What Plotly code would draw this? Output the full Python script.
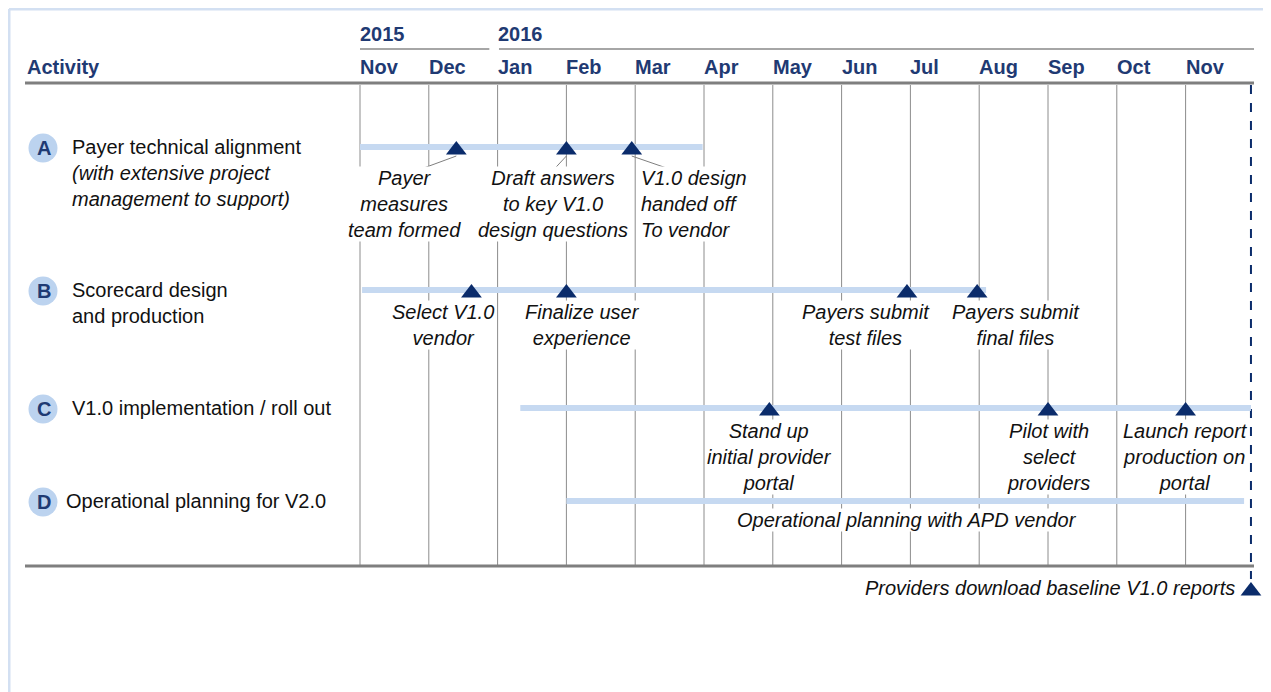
import plotly.graph_objects as go

# ---------------- data ----------------
years = ["2015", "2016"]
year_start_month = [0, 2]
months = ["Nov", "Dec", "Jan", "Feb", "Mar", "Apr", "May", "Jun", "Jul", "Aug", "Sep", "Oct", "Nov"]

activity_letters = ["A", "B", "C", "D"]
activity_titles = ["Payer technical alignment", "Scorecard design",
                   "V1.0 implementation / roll out", "Operational planning for V2.0"]
activity_subtitles = ["<i>(with extensive project<br>management to support)</i>",
                      "and production", "", ""]
bar_start = [0.0, 0.03, 2.33, 3.0]
bar_end = [4.98, 9.1, 12.95, 12.85]

milestone_activity = [0, 0, 0, 1, 1, 1, 1, 2, 2, 2]
milestone_month = [1.4, 3.0, 3.95, 1.62, 3.0, 7.95, 8.97, 5.95, 10.0, 12.0]
milestone_labels = [
    "Payer<br>measures<br>team formed",
    "Draft answers<br>to key V1.0<br>design questions",
    "V1.0 design<br>handed off<br>To vendor",
    "Select V1.0<br>vendor",
    "Finalize user<br>experience",
    "Payers submit<br>test files",
    "Payers submit<br>final files",
    "Stand up<br>initial provider<br>portal",
    "Pilot with<br>select<br>providers",
    "Launch report<br>production on<br>portal",
]
final_month = 12.95
final_label = "Providers download baseline V1.0 reports"
d_note = "Operational planning with APD vendor"
d_note_month = 7.95

# ---------------- layout constants (page pixels / styles) ----------------
PAGE_W, PAGE_H = 1271, 692
OFF = 8                      # default body margin of the html page
W, H = PAGE_W - OFF, PAGE_H - OFF
ORIGIN_PX, MONTH_PX = 360.0, 68.8
row_y = [147, 290, 408, 501]
label_dy = [56.5, 35, 49, 0]
label_dx = [-0.76, -0.2, 0.12, -0.41, 0.23, -0.6, 0.57, 0.0, 0.0, 0.0]
label_anchor = ["center", "center", "left", "center", "center", "center", "center",
                "center", "center", "center"]
leaders = {0: (0.61, 176), 1: (2.77, 173), 2: (4.75, 175)}

NAVY = "#1f3a73"
TRI = "#0b2c6b"
BAR = "#c6d9f1"
GRID = "#8c8c8c"
FONT = "Liberation Sans, Arial, sans-serif"
FS = 20

GRID_TOP, GRID_BOT = 85, 566


def px_x(p):
    return (p - OFF) / W


def px_y(p):
    return 1 - (p - OFF) / H


fig = go.Figure()

gx, gy = [], []
for i in range(len(months)):
    gx += [i, i, None]
    gy += [GRID_TOP, GRID_BOT, None]
fig.add_trace(go.Scatter(x=gx, y=gy, mode="lines", line=dict(color=GRID, width=1),
                         hoverinfo="skip"))

fig.add_trace(go.Scatter(x=[final_month, final_month], y=[GRID_TOP, 579], mode="lines",
                         line=dict(color=TRI, width=2, dash="dash"), hoverinfo="skip"))

for k, (ex, ey) in leaders.items():
    a = milestone_activity[k]
    fig.add_trace(go.Scatter(x=[milestone_month[k], ex], y=[row_y[a] + 9, ey], mode="lines",
                             line=dict(color="#7f7f7f", width=1), hoverinfo="skip"))

for a in range(len(activity_letters)):
    fig.add_trace(go.Scatter(x=[bar_start[a], bar_end[a]], y=[row_y[a], row_y[a]],
                             mode="lines", line=dict(color=BAR, width=6), hoverinfo="skip"))

fig.add_trace(go.Scatter(
    x=milestone_month + [final_month],
    y=[row_y[a] + 3 for a in milestone_activity] + [591],
    mode="markers",
    marker=dict(symbol="triangle-up", size=18, color=TRI, line=dict(width=0)),
    hoverinfo="skip"))

ann = []
ann.append(dict(x=px_x(25), y=px_y(67), xref="paper", yref="paper", text="<b>Activity</b>",
                xanchor="left", yanchor="middle", showarrow=False,
                font=dict(family=FONT, size=20, color=NAVY)))
for yr, m0 in zip(years, year_start_month):
    ann.append(dict(x=m0, y=34, xref="x", yref="y", text=f"<b>{yr}</b>", xanchor="left",
                    yanchor="middle", showarrow=False, xshift=-2,
                    font=dict(family=FONT, size=20, color=NAVY)))
for i, m in enumerate(months):
    ann.append(dict(x=i, y=67, xref="x", yref="y", text=f"<b>{m}</b>", xanchor="left",
                    yanchor="middle", showarrow=False, xshift=-2,
                    font=dict(family=FONT, size=20, color=NAVY)))

shapes = []
for a, (L, t, s) in enumerate(zip(activity_letters, activity_titles, activity_subtitles)):
    cx, cy, r = 43, row_y[a] + 1, 14.5
    shapes.append(dict(type="circle", xref="paper", yref="paper",
                       x0=px_x(cx - r), x1=px_x(cx + r), y0=px_y(cy + r), y1=px_y(cy - r),
                       fillcolor="#bcd3ef", line=dict(width=0), layer="above"))
    ann.append(dict(x=px_x(cx + 1), y=px_y(cy), xref="paper", yref="paper", text=f"<b>{L}</b>",
                    xanchor="center", yanchor="middle", showarrow=False,
                    font=dict(family=FONT, size=20, color=NAVY)))
    text = t + ("<br>" + s if s else "")
    tx = 64 if a == 3 else 70
    ann.append(dict(x=px_x(tx), y=px_y(row_y[a] - 13), xref="paper", yref="paper", text=text,
                    xanchor="left", yanchor="top", align="left", showarrow=False,
                    font=dict(family=FONT, size=20, color="#111111")))

for k, lab in enumerate(milestone_labels):
    a = milestone_activity[k]
    ann.append(dict(x=milestone_month[k] + label_dx[k], y=row_y[a] + label_dy[a],
                    xref="x", yref="y", text=f"<i>{lab}</i>",
                    xanchor=label_anchor[k], yanchor="middle", align=label_anchor[k],
                    showarrow=False, bgcolor="white", borderpad=0,
                    font=dict(family=FONT, size=FS, color="#111111")))

ann.append(dict(x=d_note_month, y=520, xref="x", yref="y", text=f"<i>{d_note}</i>",
                xanchor="center", yanchor="middle", showarrow=False, bgcolor="white",
                borderpad=0, font=dict(family=FONT, size=FS, color="#111111")))
ann.append(dict(x=final_month, y=588, xref="x", yref="y", text=f"<i>{final_label}</i>",
                xanchor="right", yanchor="middle", showarrow=False, xshift=-14,
                font=dict(family=FONT, size=FS, color="#111111")))

for yy in (83, 566):
    shapes.append(dict(type="line", xref="paper", yref="paper", x0=px_x(25), x1=px_x(1254),
                       y0=px_y(yy), y1=px_y(yy), line=dict(color="#7f7f7f", width=3)))
shapes.append(dict(type="line", xref="x", yref="y", x0=0, x1=year_start_month[1] - 0.12,
                   y0=49, y1=49, line=dict(color="#a6a6a6", width=2)))
shapes.append(dict(type="line", xref="x", yref="y", x0=year_start_month[1] + 0.02,
                   x1=(1254 - ORIGIN_PX) / MONTH_PX, y0=49, y1=49,
                   line=dict(color="#a6a6a6", width=2)))
for (x0, y0, x1, y1) in [(9, 9, 1267, 9), (9, 9, 9, 692), (1267, 9, 1267, 692)]:
    shapes.append(dict(type="line", xref="paper", yref="paper", x0=px_x(x0), x1=px_x(x1),
                       y0=px_y(y0), y1=px_y(y1), line=dict(color="#d3e0f2", width=3)))

fig.update_layout(
    width=W, height=H, margin=dict(l=0, r=0, t=0, b=0),
    paper_bgcolor="white", plot_bgcolor="white", showlegend=False,
    xaxis=dict(range=[(OFF - ORIGIN_PX) / MONTH_PX, (PAGE_W - ORIGIN_PX) / MONTH_PX],
               visible=False, fixedrange=True),
    yaxis=dict(range=[PAGE_H, OFF], visible=False, fixedrange=True),
    annotations=ann, shapes=shapes,
)

fig.write_html("out.html")
